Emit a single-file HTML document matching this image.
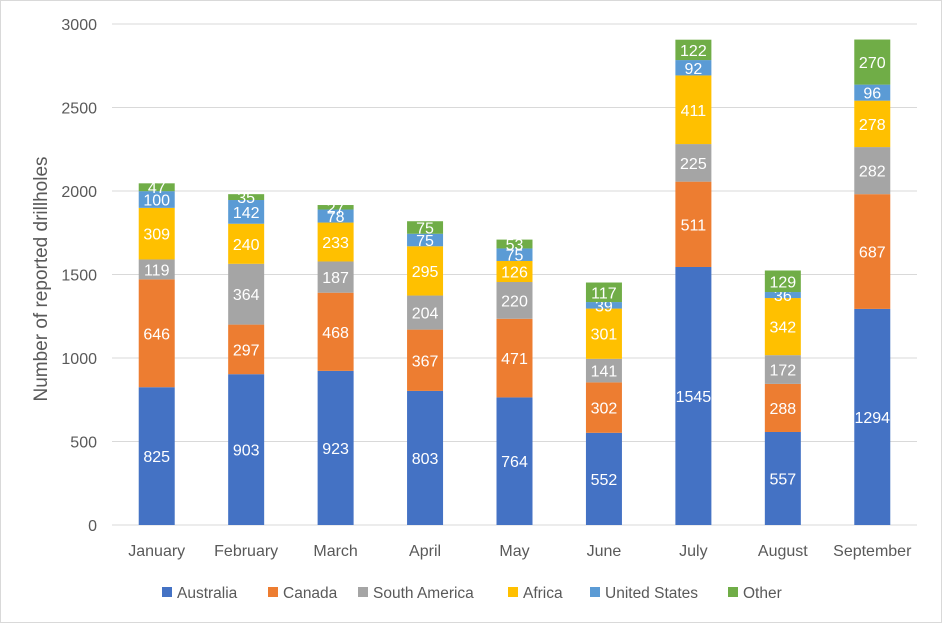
<!DOCTYPE html>
<html><head><meta charset="utf-8">
<style>
html,body{margin:0;padding:0;background:#fff;}
svg{display:block;font-family:"Liberation Sans",Arial,sans-serif;}
</style></head>
<body>
<svg id="chart" width="942" height="623" viewBox="0 0 942 623">
<rect x="0.5" y="0.5" width="941" height="622" fill="#fff" stroke="#d9d9d9"/>
<g id="grid"></g><g id="bars"></g><g id="xlabels"></g><g id="legend"></g>
<text x="47" y="279" transform="rotate(-90 47 279)" text-anchor="middle" font-size="19" fill="#595959">Number of reported drillholes</text>
</svg>
<script>
const categories=["January","February","March","April","May","June","July","August","September"];
const seriesNames=["Australia","Canada","South America","Africa","United States","Other"];
const australia=[825,903,923,803,764,552,1545,557,1294];
const canada=[646,297,468,367,471,302,511,288,687];
const southAmerica=[119,364,187,204,220,141,225,172,282];
const africa=[309,240,233,295,126,301,411,342,278];
const unitedStates=[100,142,78,75,75,39,92,36,96];
const other=[47,35,27,75,53,117,122,129,270];
const yTicks=[0,500,1000,1500,2000,2500,3000];

const series=[australia,canada,southAmerica,africa,unitedStates,other];
const colors=["#4472C4","#ED7D31","#A5A5A5","#FFC000","#5B9BD5","#70AD47"];
const NS="http://www.w3.org/2000/svg";
const plotL=112,plotR=917,y0=525,yTop=24,yMax=3000;
const step=(plotR-plotL)/categories.length, bw=36;
const y=v=>y0-(v/yMax)*(y0-yTop);
const xc=i=>plotL+step*(i+0.5);
function mk(tag,attrs,parent){const e=document.createElementNS(NS,tag);for(const k in attrs)e.setAttribute(k,attrs[k]);parent.appendChild(e);return e;}
const grid=document.getElementById('grid');
yTicks.forEach(t=>{
  const l=mk('line',{x1:plotL,x2:plotR,y1:y(t),y2:y(t),stroke:'#d9d9d9','stroke-width':1},grid);
  
  
  const tx=mk('text',{x:97,y:y(t)+6,'text-anchor':'end','font-size':16,fill:'#595959'},grid);
  tx.textContent=t;
  
  
});
const bars=document.getElementById('bars');
categories.forEach((c,i)=>{
  let cum=0;
  series.forEach((s,j)=>{
    const v=s[i];const top=y(cum+v),bot=y(cum);
    const r=mk('rect',{x:xc(i)-bw/2,y:top,width:bw,height:bot-top,fill:colors[j]},bars);
    
    
    const t=mk('text',{x:xc(i),y:(top+bot)/2+6,'text-anchor':'middle','font-size':16,fill:'#fff'},bars);
    t.textContent=v;
    
    
    cum+=v;
  });
  const xl=mk('text',{x:xc(i),y:556,'text-anchor':'middle','font-size':16,fill:'#595959'},document.getElementById('xlabels'));
  xl.textContent=c;
  
  
});
const legend=document.getElementById('legend');
const legX=[162,268,358,508,590,728];
seriesNames.forEach((n,j)=>{
  const g=mk('g',{},legend);
  
  
  mk('rect',{x:legX[j],y:587,width:10,height:10,fill:colors[j]},g);
  const t=mk('text',{x:legX[j]+15,y:598,'font-size':15.5,fill:'#595959'},g);
  t.textContent=n;
});
</script>
</body></html>
